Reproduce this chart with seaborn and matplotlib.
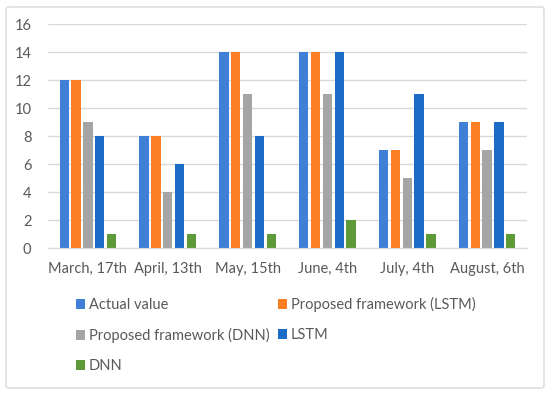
import matplotlib
matplotlib.use("Agg")
import matplotlib.pyplot as plt
import seaborn as sns
import pandas as pd
from matplotlib.patches import Patch, FancyBboxPatch

categories = ["March, 17th", "April, 13th", "May, 15th", "June, 4th", "July, 4th", "August, 6th"]
series_names = ["Actual value", "Proposed framework (LSTM)", "Proposed framework (DNN)", "LSTM", "DNN"]
actual = [12, 8, 14, 14, 7, 9]
prop_lstm = [12, 8, 14, 14, 7, 9]
prop_dnn = [9, 4, 11, 11, 5, 7]
lstm = [8, 6, 8, 14, 11, 9]
dnn = [1, 1, 1, 2, 1, 1]
yticks = [0, 2, 4, 6, 8, 10, 12, 14, 16]

colors = ["#3F7FD6", "#FD7F23", "#A5A5A5", "#1A6CC6", "#5E9A37"]

rows = []
for name, vals in zip(series_names, [actual, prop_lstm, prop_dnn, lstm, dnn]):
    for c, v in zip(categories, vals):
        rows.append({"date": c, "series": name, "value": v})
df = pd.DataFrame(rows)

sns.set_style("white")
plt.rcParams["font.family"] = ["Lato", "DejaVu Sans"]
text_color = "#595959"
fs = 10.5

fig = plt.figure(figsize=(5.5, 3.94), dpi=100)
ax = fig.add_axes([48/550, 1-248/394, (527-48)/550, (248-24)/394])

sns.barplot(data=df, x="date", y="value", hue="series", order=categories,
            hue_order=series_names, palette=colors, width=0.74, ax=ax,
            legend=False, saturation=1, errorbar=None)

# shrink bars to leave small gaps
for p in ax.patches:
    w = p.get_width()
    nw = w * 0.79
    p.set_x(p.get_x() + (w - nw) / 2)
    p.set_width(nw)
    p.set_linewidth(0)

ax.set_ylim(0, 16)
ax.set_xlim(-0.5, len(categories) - 0.5)
ax.set_yticks(yticks)
ax.yaxis.grid(True, color="#D9D9D9", linewidth=1)
ax.set_axisbelow(True)
for s in ["top", "right", "left"]:
    ax.spines[s].set_visible(False)
ax.spines["bottom"].set_color("#D9D9D9")
ax.tick_params(axis="both", length=0, labelsize=fs, labelcolor=text_color)
ax.tick_params(axis="y", pad=12)
ax.tick_params(axis="x", pad=10)
ax.set_xlabel("")
ax.set_ylabel("")

handles = [Patch(facecolor=c, edgecolor="none") for c in colors]
order = [0, 2, 4, 1, 3]
fig.legend([handles[i] for i in order], [series_names[i] for i in order],
           loc="upper left", bbox_to_anchor=(76/550, 1-297/394), ncol=2,
           frameon=False, fontsize=fs, labelcolor=text_color,
           handlelength=0.6, handleheight=0.6, handletextpad=0.3,
           columnspacing=0.55, labelspacing=1.1, borderpad=0, borderaxespad=0)

border = FancyBboxPatch((6/550, 6/394), 538/550, 381/394,
                        boxstyle="round,pad=0,rounding_size=0.006",
                        transform=fig.transFigure, facecolor="none",
                        edgecolor="#D9D9D9", linewidth=1)
fig.patches.append(border)

fig.savefig("out.png", dpi=100)
